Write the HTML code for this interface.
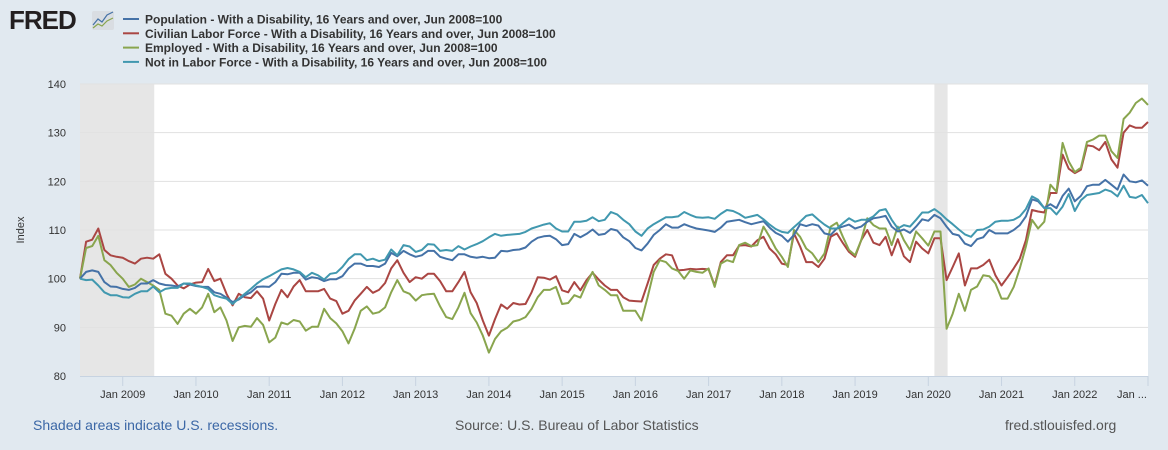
<!DOCTYPE html>
<html><head><meta charset="utf-8"><style>
body{margin:0;background:#e1e9f0;font-family:"Liberation Sans",Arial,sans-serif;}
svg{display:block}
</style></head><body>
<svg id="chart" width="1168" height="450" viewBox="0 0 1168 450" xmlns="http://www.w3.org/2000/svg">
<rect x="0" y="0" width="1168" height="450" fill="#e1e9f0"/>
<g>
<text x="9" y="29" font-size="26" font-weight="bold" fill="#231f20" font-family="Liberation Sans, sans-serif" letter-spacing="-1">FRED</text>
<rect x="92" y="11" width="22" height="19" rx="2" fill="#d9dde2"/>
<polyline points="93,25 98,19 102,22 107,15 113,12" fill="none" stroke="#4572a7" stroke-width="1.2"/>
<polyline points="93,28 98,24 102,26 107,21 113,18" fill="none" stroke="#89a54e" stroke-width="1.2"/>
</g>
<g id="legend"></g>
<rect x="80" y="84" width="1068" height="292" fill="#ffffff"/>
<g id="rec"></g><g id="grid"></g><g id="axes"></g><g id="series"></g>
<text x="24" y="230" font-size="11" fill="#333" text-anchor="middle" transform="rotate(-90 24 230)">Index</text>
<text x="33" y="430" font-size="14" fill="#3b67a6">Shaded areas indicate U.S. recessions.</text>
<text x="455" y="430" font-size="14" fill="#555">Source: U.S. Bureau of Labor Statistics</text>
<text x="1005" y="430" font-size="14" fill="#555">fred.stlouisfed.org</text>
</svg>
<script>
const seriesNames=["Population - With a Disability, 16 Years and over, Jun 2008=100","Civilian Labor Force - With a Disability, 16 Years and over, Jun 2008=100","Employed - With a Disability, 16 Years and over, Jun 2008=100","Not in Labor Force - With a Disability, 16 Years and over, Jun 2008=100"];
const seriesColors=["#4572a7","#aa4643","#89a54e","#4198af"];
const yTicks=[80,90,100,110,120,130,140];
const xTickLabels=["Jan 2009","Jan 2010","Jan 2011","Jan 2012","Jan 2013","Jan 2014","Jan 2015","Jan 2016","Jan 2017","Jan 2018","Jan 2019","Jan 2020","Jan 2021","Jan 2022","Jan ..."];
const xTickMonths=[7,19,31,43,55,67,79,91,103,115,127,139,151,163,175];
const recessions=[[0,12],[140,142]];
const population=[100,101.4,101.7,101.4,99.3,98.4,98.3,97.9,97.7,98.1,99,99,99.7,99,98.7,98.6,98.4,99,98.8,98.5,98.3,98.3,97.2,96.9,96.1,95.2,95.7,96.6,97.2,98.3,98.4,98.3,99.3,
101,100.9,101.2,101.2,99.8,100.3,100.1,99.5,99.9,99.9,100.5,102.1,103.1,103.1,102.6,102.6,102.4,103.1,105.3,104.6,105.7,105,104.5,104.8,105.7,105.7,104.5,104.1,103.8,105,105,104.5,
104.3,104.5,104.2,104.3,105.7,105.6,105.9,106,106.4,107.6,108.4,108.7,108.8,108.1,106.9,107.1,109.2,108.5,109.2,110.1,109,109.2,110.2,109.9,108.5,107.7,106.3,105.8,107.2,109,110,
111.2,110.5,110.5,111.2,110.7,110.3,110.1,109.9,109.6,110.5,111.7,111.9,112.1,111.6,111.2,111.5,111.8,110.5,109.4,108.8,107.6,109,111.2,110.8,111.2,110.9,109.3,109,110.3,110.7,
111.1,110.3,110.7,111.7,112.4,112.6,112.9,110.7,109.7,110.1,109.4,110.7,112.2,111.9,113.1,112.4,110.7,109.2,108.9,107.2,106.7,108.1,108.5,110,109.3,109.3,
109.3,110,111,112.8,116.3,115.9,114.5,115.3,114.5,117,118.5,115.9,117,119,119.3,119.3,120.3,119.3,118.3,121.4,120,119.8,120.2,119.1];
const laborForce=[100,107.6,108,110.3,105.9,104.8,104.5,104.3,103.6,103.1,104.1,104.3,104.1,105,101,100,98.6,98,98.8,99.2,99.3,102,99.5,100,96.9,94.5,96.9,96.2,96,97.4,95.9,91.4,94.8,
97.7,96.2,98.4,99.7,97.4,97.4,97.4,97.9,95.9,95.4,92.8,93.4,95.5,96.9,98.3,97.1,97.7,99.1,102.1,103.8,101.2,99.3,100.3,100,101,101,99.5,97.4,97.4,99.3,101.4,97.2,
95,91.4,88.3,91.7,94.7,93.8,95,94.7,94.8,97.2,100.3,100.2,99.8,100.5,97.6,97.2,99.3,97.6,99.7,101.2,99.8,98.6,97.7,97.7,96.2,95.5,95.4,95.3,99,102.8,104.1,
105,104.8,101.7,101.8,102,101.9,102,101.9,98.6,103.4,104.8,104.8,106.8,106.9,106.6,107.9,108.6,106.2,105,103.1,102.8,109.3,106.6,103.4,103.4,102.4,104.1,108.6,109.3,
107.3,105.5,104.5,107.9,110,107.4,106.9,108.6,104.8,108.1,104.6,103.4,107.6,106.2,105.2,108.3,108.3,
99.7,102.4,105.2,98.6,102.1,102.1,102.8,103.9,100.7,98.6,
100.3,102.1,104.1,107.9,114.1,113.8,113.6,117.6,117.6,125.5,122.6,121.7,122.4,127.4,127.2,126.4,128.1,124.5,122.8,130,131.5,131,131,132.2];
const employed=[100,106.3,106.7,108.8,103.8,102.8,101.2,100,98.3,98.8,100,99.3,98.6,97.7,92.8,92.4,90.7,92.8,93.8,92.8,94.1,96.9,93.1,94.1,91.4,87.2,90,90.3,90.1,91.9,90.5,86.9,87.9,
91,90.6,91.5,91.2,89.3,90.1,90.1,93.8,91.9,90.8,89.2,86.7,89.7,93.4,94.3,92.8,93.1,94.1,97.2,99.7,97.4,96.9,95.5,96.6,96.8,96.9,94.3,92.1,91.7,94.1,97.1,92.9,
91,88.3,84.8,87.6,89.2,89.9,91.2,91.5,92.1,93.8,96.2,97.7,97.7,98.3,94.8,95,96.6,96.1,99,101.4,98.6,97.7,96.6,96.6,93.4,93.4,93.4,91.4,96.2,101.4,103.8,
103.4,102.1,101.6,100,101.7,101.4,101.2,102.1,98.3,103.1,103.8,103.4,106.9,107.4,106.7,106.9,110.7,108.6,106.2,104.5,102.4,110,108.6,106.2,105.2,103.4,105.2,110.7,111.5,
108.6,105.9,104.8,107.9,112.4,111,110.3,110.3,106.9,110.7,107.9,105.9,109.7,108.3,106.8,109.7,109.7,
89.7,92.8,96.9,93.4,97.7,98.4,100.7,100.5,99,95.9,
95.9,98.3,102.1,106.6,112.1,110.3,111.7,119.3,117.9,127.9,124.1,121.9,122.8,128.1,128.6,129.4,129.4,126.2,124.8,132.8,134.1,136.1,137,135.7];
const notInLF=[100,99.7,99.8,98.6,97.2,96.6,96.6,96.2,96.1,96.9,97.4,97.4,98.4,97.2,97.9,98.1,98.1,99,99,98.6,98.3,97.9,96.6,96.2,95.9,94.8,95.9,96.9,97.9,99,99.9,100.5,101.2,
101.9,102.2,101.9,101.4,100.3,101.2,100.7,99.8,101,101.2,102.4,104,105,105,103.8,104.1,103.6,103.9,106,104.8,106.9,106.6,105.5,105.9,107.1,107,105.7,105.9,105.7,106.7,106,106.6,
107.1,107.7,108.5,109.2,108.8,109,109.1,109.2,109.6,110.3,110.7,111.1,111.4,110.3,109.7,109.7,111.7,111.7,111.9,112.6,111.8,112.1,113.7,113.2,112.1,111.2,109.7,108.8,110.3,111.2,111.9,
112.6,112.6,112.8,113.7,113.1,112.6,112.5,112.6,112.3,113.3,114.1,113.9,113.3,112.5,112.8,113.1,112.2,111.1,110.2,109.6,109.4,110.6,111.7,112.9,113.2,112.1,111.1,110.3,110.3,111.4,
112.4,111.7,112.1,112.1,112.8,114,114.3,112.1,110.3,111,110.7,112.1,113.6,113.6,114.3,113.4,112.2,111.2,110.1,109.1,108.6,110,110.1,110.7,111.7,111.9,
111.9,112.1,112.8,114.3,116.9,116.2,114.5,114.5,113.2,114.8,117.4,113.9,116.1,117.2,117.4,117.6,118.3,117.9,116.9,119.1,116.8,116.6,117.2,115.5];

const NS="http://www.w3.org/2000/svg";
const X0=80,X1=1148,Y0=84,Y1=376,NMONTHS=175,VMIN=80,VMAX=140;
function xScale(m){return X0+(m/NMONTHS)*(X1-X0);}
function yScale(v){return Y1-(v-VMIN)/(VMAX-VMIN)*(Y1-Y0);}
function mk(tag,attrs,parent){const e=document.createElementNS(NS,tag);for(const k in attrs)e.setAttribute(k,attrs[k]);parent.appendChild(e);return e;}

const rec=document.getElementById('rec');
recessions.forEach(r=>{
  const e=mk('rect',{x:xScale(r[0]),y:Y0,width:xScale(r[1])-xScale(r[0])+1,height:Y1-Y0,fill:'#e6e6e6'},rec);
  
  
});
const grid=document.getElementById('grid');
yTicks.forEach(t=>{
  const y=yScale(t);
  if(t>VMIN){const l=mk('line',{x1:X0,x2:X1,y1:y,y2:y,stroke:'#e1e1e1','stroke-width':1},grid);
  
  }
  const tx=mk('text',{x:66,y:y+4,'font-size':11,fill:'#333','text-anchor':'end'},grid);
  tx.textContent=t;
  
  
});
const axes=document.getElementById('axes');
const ax=mk('line',{x1:X0,x2:X1,y1:Y1+0.5,y2:Y1+0.5,stroke:'#c7d3e1','stroke-width':1},axes);


xTickLabels.forEach((lab,i)=>{
  const x=xScale(xTickMonths[i]);
  const tk=mk('line',{x1:x,x2:x,y1:Y1,y2:Y1+10,stroke:'#c7d3e1','stroke-width':1},axes);
  
  
  const tx=mk('text',{x:(i===xTickLabels.length-1)?x-16:x,y:Y1+22,'font-size':11,fill:'#333','text-anchor':'middle'},axes);
  tx.textContent=lab;
  
  
});
const legend=document.getElementById('legend');
seriesNames.forEach((n,i)=>{
  const y=19+i*14.3;
  const g=mk('g',{},legend);
  
  
  mk('line',{x1:123,x2:139,y1:y,y2:y,stroke:seriesColors[i],'stroke-width':2},g);
  const t=mk('text',{x:145,y:y+4.5,'font-size':12,'font-weight':'bold',fill:'#333'},g);
  t.textContent=n;
});
const ser=document.getElementById('series');
const allSeries=[population,laborForce,employed,notInLF];
const sNames=['population-line','labor-force-line','employed-line','not-in-labor-force-line'];
[1,2,0,3].forEach(k=>{
  const d=allSeries[k].map((v,i)=>(i?'L':'M')+xScale(i).toFixed(1)+','+yScale(v).toFixed(1)).join(' ');
  const p=mk('path',{d:d,fill:'none',stroke:seriesColors[k],'stroke-width':2,'stroke-linejoin':'round'},ser);
  
  
});
</script>
</body></html>
